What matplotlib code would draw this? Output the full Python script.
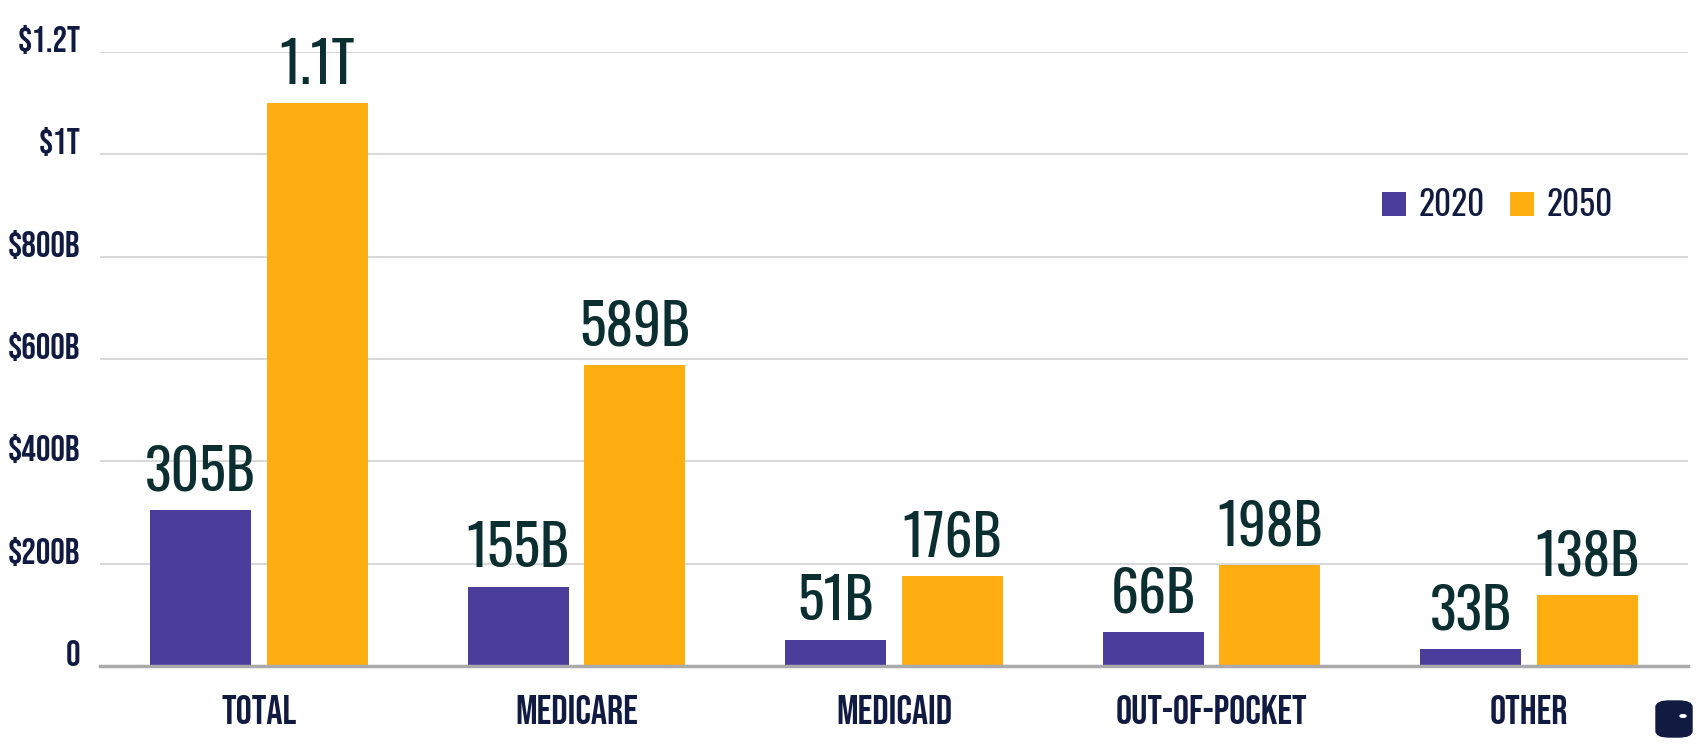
import matplotlib
matplotlib.use("Agg")
import matplotlib.pyplot as plt
from matplotlib.patches import FancyBboxPatch, Circle
import numpy as np

bold_fonts = ['Bebas Neue', 'Oswald', 'Fira Sans Extra Condensed', 'DejaVu Sans']
light_fonts = ['Oswald', 'Fira Sans Extra Condensed', 'DejaVu Sans']
plt.rcParams['font.family'] = bold_fonts

categories = ["TOTAL", "MEDICARE", "MEDICAID", "OUT-OF-POCKET", "OTHER"]
years = ["2020", "2050"]
spend_2020 = [305, 155, 51, 66, 33]      # billions
spend_2050 = [1100, 589, 176, 198, 138]  # billions
labels_2020 = ["305B", "155B", "51B", "66B", "33B"]
labels_2050 = ["1.1T", "589B", "176B", "198B", "138B"]
yticks = [0, 200, 400, 600, 800, 1000, 1200]
ytick_labels = ["0", "$200B", "$400B", "$600B", "$800B", "$1T", "$1.2T"]

purple = "#4a3d9c"
orange = "#ffae11"
navy = "#111a40"
label_col = "#0b2e30"

fig = plt.figure(figsize=(17.01, 7.47), dpi=100)
W, H = 1701, 747
ax = fig.add_axes([100 / W, 1 - 666 / H, 1588 / W, 614 / H])

x = np.arange(len(categories))
w = 0.318
off = 0.1835
b1 = ax.bar(x - off, spend_2020, w, color=purple, label=years[0], zorder=3)
b2 = ax.bar(x + off, spend_2050, w, color=orange, label=years[1], zorder=3)

for bars, labs in [(b1, labels_2020), (b2, labels_2050)]:
    for r, lab in zip(bars, labs):
        ax.annotate(lab, (r.get_x() + r.get_width() / 2, r.get_height()),
                    xytext=(0, 14), textcoords="offset points",
                    ha="center", va="baseline", fontsize=40, fontweight="light",
                    family=light_fonts, color=label_col)

ax.set_xlim(-0.5, len(categories) - 0.5)
ax.set_ylim(0, 1200)
ax.set_yticks(yticks)
ax.set_yticklabels(ytick_labels, fontsize=26, color=navy, va="baseline")
ax.set_xticks(x)
ax.set_xticklabels(categories, fontsize=29, color=navy)
ax.tick_params(axis="y", length=0, pad=14)
ax.tick_params(axis="x", length=0, pad=21)

ax.grid(axis="y", color="#d9d9d9", linewidth=1.5, zorder=0)
for s in ["top", "right", "left"]:
    ax.spines[s].set_visible(False)
ax.spines["bottom"].set_color("#aaaaaa")
ax.spines["bottom"].set_linewidth(2.5)
ax.spines["bottom"].set_zorder(4)

ax.legend(loc="center left", bbox_to_anchor=(0.797, 0.751), ncol=2,
          frameon=False, borderpad=0, handlelength=0.72,
          handleheight=0.72, handletextpad=0.38, columnspacing=0.75,
          labelcolor=navy,
          prop={'family': light_fonts, 'size': 24, 'weight': 'light'})

# small logo mark in the bottom-right corner
logo = FancyBboxPatch((1656 / W, 1 - 737 / H), 36 / W, 36 / H,
                      boxstyle="round,pad=0,rounding_size=0.008",
                      transform=fig.transFigure, color=navy)
fig.patches.append(logo)
eye = Circle((1683 / W, 1 - 716 / H), 3 / W, transform=fig.transFigure,
             color="white")
fig.patches.append(eye)

fig.savefig("out.png", dpi=100)
